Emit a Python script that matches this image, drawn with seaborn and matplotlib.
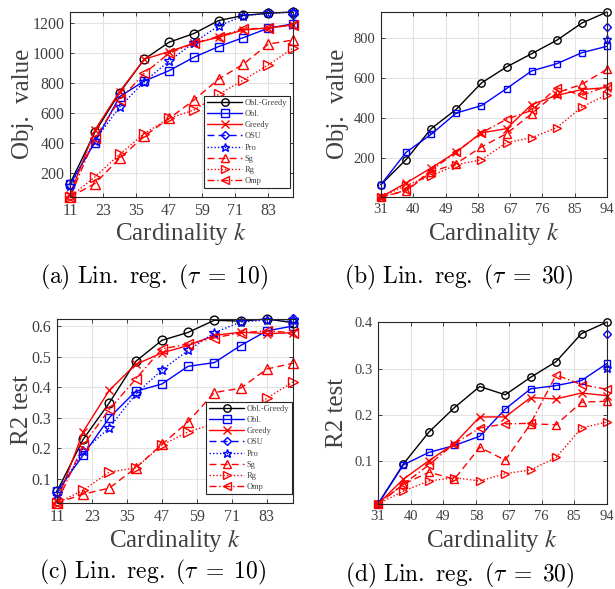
import numpy as np
import pandas as pd
import matplotlib
matplotlib.use("Agg")
import matplotlib.pyplot as plt
import seaborn as sns

# cardinality grids
k_tau10 = [11, 20, 29, 38, 47, 56, 65, 74, 83, 92]
k_tau30 = [31, 38, 45, 52, 59, 66, 73, 80, 87, 94]
xticks_tau10 = [11, 23, 35, 47, 59, 71, 83]
xticks_tau30 = [31, 40, 49, 58, 67, 76, 85, 94]

# (a) objective value, tau = 10
a_obl_greedy = [129, 469, 733, 956, 1069, 1127, 1213, 1247, 1262, 1270]
a_obl = [125, 402, 707, 811, 880, 969, 1040, 1100, 1162, 1191]
a_greedy = [55, 484, 740, 956, 1007, 1062, 1102, 1151, 1164, 1184]
a_osu = [1258]
a_pro = [110, 415, 638, 807, 944, 1067, 1178, 1244, 1262, 1268]
a_sg = [40, 129, 296, 445, 562, 684, 824, 924, 1056, 1084]
a_rg = [40, 173, 323, 462, 563, 618, 722, 818, 918, 1029]
a_omp = [40, 431, 685, 862, 996, 1062, 1107, 1158, 1162, 1184]

# (b) objective value, tau = 30
b_obl_greedy = [67, 192, 346, 443, 574, 654, 720, 787, 873, 928]
b_obl = [67, 228, 318, 424, 461, 546, 634, 670, 725, 757]
b_greedy = [5, 75, 150, 230, 325, 346, 466, 512, 541, 551]
b_osu = [853]
b_pro = [792]
b_sg = [5, 35, 130, 172, 255, 321, 421, 525, 567, 642]
b_rg = [5, 63, 110, 166, 191, 276, 301, 351, 454, 516]
b_omp = [5, 38, 138, 230, 325, 393, 437, 550, 512, 558]

# (c) R2 test, tau = 10
c_obl_greedy = [0.058, 0.229, 0.349, 0.484, 0.553, 0.579, 0.619, 0.616, 0.623, 0.611]
c_obl = [0.058, 0.177, 0.300, 0.386, 0.410, 0.468, 0.480, 0.536, 0.584, 0.600]
c_greedy = [0.025, 0.254, 0.390, 0.474, 0.512, 0.536, 0.569, 0.580, 0.575, 0.578]
c_osu = [0.623]
c_pro = [0.050, 0.190, 0.267, 0.377, 0.456, 0.520, 0.578, 0.613, 0.620, 0.620]
c_sg = [0.020, 0.049, 0.069, 0.135, 0.212, 0.286, 0.382, 0.396, 0.459, 0.478]
c_rg = [0.020, 0.062, 0.122, 0.135, 0.210, 0.253, 0.280, 0.310, 0.363, 0.417]
c_omp = [0.020, 0.210, 0.327, 0.426, 0.525, 0.541, 0.561, 0.578, 0.584, 0.578]

# (d) R2 test, tau = 30
d_obl_greedy = [0.006, 0.093, 0.162, 0.215, 0.261, 0.243, 0.281, 0.315, 0.376, 0.401]
d_obl = [0.006, 0.091, 0.118, 0.133, 0.153, 0.212, 0.256, 0.263, 0.274, 0.311]
d_greedy = [0.006, 0.060, 0.100, 0.137, 0.195, 0.195, 0.237, 0.234, 0.247, 0.241]
d_osu = [0.374]
d_pro = [0.301]
d_sg = [0.006, 0.049, 0.075, 0.060, 0.129, 0.101, 0.180, 0.178, 0.227, 0.229]
d_rg = [0.006, 0.034, 0.056, 0.063, 0.056, 0.072, 0.080, 0.107, 0.171, 0.184]
d_omp = [0.006, 0.049, 0.091, 0.137, 0.171, 0.180, 0.181, 0.286, 0.265, 0.255]

methods = ["Obl.-Greedy", "Obl.", "Greedy", "OSU", "Pro", "Sg", "Rg", "Omp"]

# color, dash pattern, marker, relative marker size
styles = {
    "Obl.-Greedy": ("black", "-", "o", 1.0),
    "Obl.": ("blue", "-", "s", 0.95),
    "Greedy": ("red", "-", "x", 1.0),
    "OSU": ("blue", (0, (5, 3)), "D", 0.8),
    "Pro": ("blue", (0, (1, 1.5)), "*", 1.2),
    "Sg": ("red", (0, (5, 3)), "^", 1.15),
    "Rg": ("red", (0, (1, 1.5)), ">", 1.15),
    "Omp": ("red", (0, (5, 2, 1, 2)), "<", 1.15),
}

sns.set_theme(style="white")
plt.rcParams["font.family"] = ["Liberation Serif", "DejaVu Serif"]

W, H = 615, 589
fig = plt.figure(figsize=(W / 100, H / 100), dpi=100)

TXT = "#404040"


def add_axes_px(left, right, top, bottom):
    return fig.add_axes([left / W, 1 - bottom / H, (right - left) / W, (bottom - top) / H])


def draw_panel(ax, ks, series, xticks, yticks, yfmt, tick_fs, ms, legend_anchor=None):
    for name in methods:
        vals = series[name]
        xs = ks[-len(vals):]
        color, ls, marker, scale = styles[name]
        df = pd.DataFrame({"k": xs, "v": vals})
        sns.lineplot(data=df, x="k", y="v", ax=ax, color=color, linestyle=ls,
                     marker=marker, markersize=ms * scale, markerfacecolor="none",
                     markeredgecolor=color, markeredgewidth=1.0, linewidth=1.0,
                     label=name, legend=False, clip_on=False)
    allv = np.concatenate([np.asarray(v, dtype=float) for v in series.values()])
    ax.set_xlim(ks[0], ks[-1])
    ax.set_ylim(allv.min(), allv.max())
    ax.set_xticks(xticks)
    ax.set_yticks(yticks)
    ax.set_yticklabels([yfmt.format(t) for t in yticks])
    ax.set_xlabel("")
    ax.set_ylabel("")
    ax.grid(True, color="#e3e3e3", linewidth=0.8)
    ax.set_axisbelow(True)
    ax.tick_params(direction="in", length=3, width=0.6, labelsize=tick_fs,
                   colors="#262626", labelcolor=TXT, top=True, right=True,
                   left=True, bottom=True, pad=4)
    for sp in ax.spines.values():
        sp.set_color("#262626")
        sp.set_linewidth(0.8)
    if legend_anchor is not None:
        leg = ax.legend(loc="lower right", bbox_to_anchor=legend_anchor,
                        borderaxespad=0, fontsize=6.0, handlelength=4.2,
                        handletextpad=0.3, labelspacing=0.38, borderpad=0.35,
                        frameon=True, fancybox=False, framealpha=1,
                        edgecolor="#262626", markerscale=0.85)
        leg.get_frame().set_linewidth(0.8)
        leg.set_zorder(5)
        for t in leg.get_texts():
            t.set_color(TXT)


panel_a = {"Obl.-Greedy": a_obl_greedy, "Obl.": a_obl, "Greedy": a_greedy, "OSU": a_osu,
           "Pro": a_pro, "Sg": a_sg, "Rg": a_rg, "Omp": a_omp}
panel_b = {"Obl.-Greedy": b_obl_greedy, "Obl.": b_obl, "Greedy": b_greedy, "OSU": b_osu,
           "Pro": b_pro, "Sg": b_sg, "Rg": b_rg, "Omp": b_omp}
panel_c = {"Obl.-Greedy": c_obl_greedy, "Obl.": c_obl, "Greedy": c_greedy, "OSU": c_osu,
           "Pro": c_pro, "Sg": c_sg, "Rg": c_rg, "Omp": c_omp}
panel_d = {"Obl.-Greedy": d_obl_greedy, "Obl.": d_obl, "Greedy": d_greedy, "OSU": d_osu,
           "Pro": d_pro, "Sg": d_sg, "Rg": d_rg, "Omp": d_omp}

ax_a = add_axes_px(70, 293, 12, 197)
draw_panel(ax_a, k_tau10, panel_a, xticks_tau10, [200, 400, 600, 800, 1000, 1200],
           "{:d}", 11.5, 6.3, legend_anchor=(0.987, 0.049))

ax_b = add_axes_px(381, 607, 12, 197)
draw_panel(ax_b, k_tau30, panel_b, xticks_tau30, [200, 400, 600, 800],
           "{:d}", 10.5, 5.3)

ax_c = add_axes_px(57, 293, 319, 503)
draw_panel(ax_c, k_tau10, panel_c, xticks_tau10, [0.1, 0.2, 0.3, 0.4, 0.5, 0.6],
           "{:.1f}", 11.5, 6.3, legend_anchor=(0.996, 0.049))

ax_d = add_axes_px(378, 607, 322, 504)
draw_panel(ax_d, k_tau30, panel_d, xticks_tau30, [0.1, 0.2, 0.3, 0.4],
           "{:.1f}", 10.5, 5.3)

# axis labels and captions
lab_fs = 18
for cx, cy in [(181, 233), (494, 233), (175, 540), (492, 540)]:
    fig.text(cx / W, 1 - cy / H, "Cardinality $k$", ha="center", va="center",
             fontsize=lab_fs, color=TXT, math_fontfamily="stix")
for cx, cy, s in [(23, 104, "Obj.  value"), (338, 104, "Obj.  value"),
                  (22, 410, "R2 test"), (337, 413, "R2 test")]:
    fig.text(cx / W, 1 - cy / H, s, ha="center", va="center", rotation=90,
             fontsize=lab_fs, color=TXT)

captions = [
    (154, 277, r"$\mathrm{(a)\ Lin.\ reg.\ (}\tau\;=\;10\mathrm{)}$"),
    (459, 277, r"$\mathrm{(b)\ Lin.\ reg.\ (}\tau\;=\;30\mathrm{)}$"),
    (152, 572, r"$\mathrm{(c)\ Lin.\ reg.\ (}\tau\;=\;10\mathrm{)}$"),
    (460, 575, r"$\mathrm{(d)\ Lin.\ reg.\ (}\tau\;=\;30\mathrm{)}$"),
]
for cx, cy, s in captions:
    fig.text(cx / W, 1 - cy / H, s, ha="center", va="center", fontsize=17,
             color="black", math_fontfamily="cm")

fig.savefig("out.png", dpi=100)
